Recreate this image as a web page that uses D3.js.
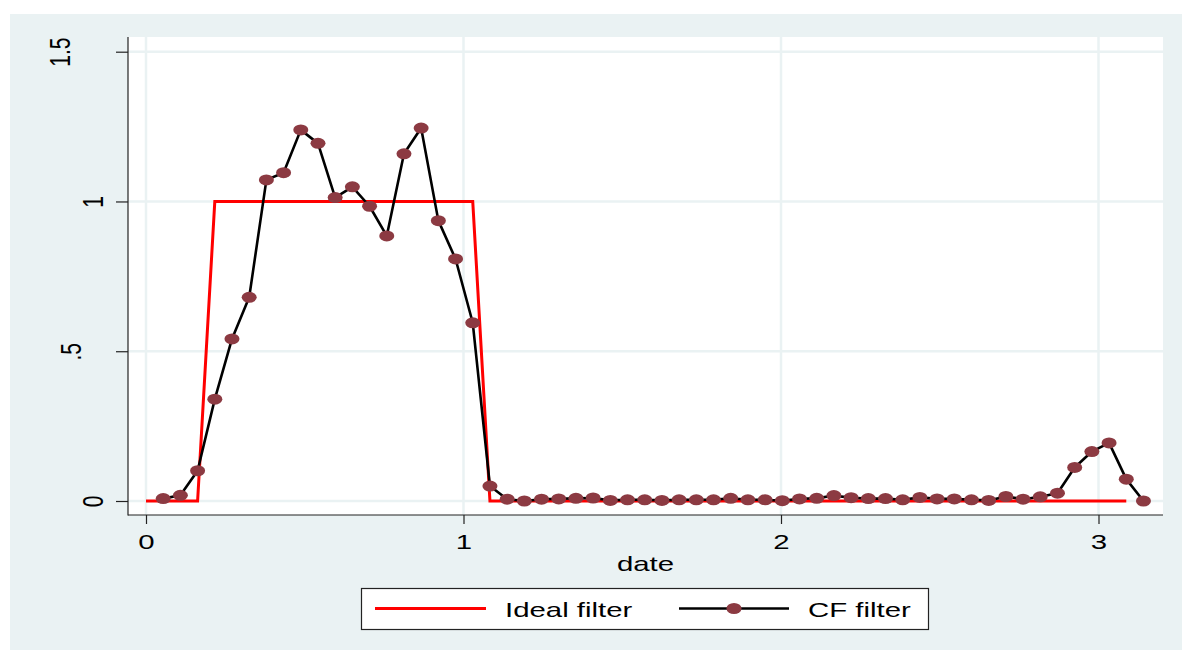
<!DOCTYPE html>
<html>
<head>
<meta charset="utf-8">
<script src="https://cdn.jsdelivr.net/npm/d3@7"></script>
<style>
  html, body { margin: 0; padding: 0; background: #ffffff; }
  svg { display: block; }
  text { font-family: "Liberation Sans", Arial, Helvetica, sans-serif; fill: #000; }
</style>
</head>
<body>
<svg id="chart" width="1182" height="650"></svg>
<script>
// Frequency grid (radians), 0 .. pi in steps of pi/58
const date = [
  0.0000, 0.0542, 0.1083, 0.1625, 0.2167, 0.2708, 0.3250, 0.3792, 0.4333, 0.4875,
  0.5417, 0.5958, 0.6500, 0.7042, 0.7583, 0.8125, 0.8666, 0.9208, 0.9750, 1.0291,
  1.0833, 1.1375, 1.1916, 1.2458, 1.3000, 1.3541, 1.4083, 1.4625, 1.5166, 1.5708,
  1.6250, 1.6791, 1.7333, 1.7875, 1.8416, 1.8958, 1.9500, 2.0041, 2.0583, 2.1125,
  2.1666, 2.2208, 2.2750, 2.3291, 2.3833, 2.4374, 2.4916, 2.5458, 2.6000, 2.6541,
  2.7083, 2.7625, 2.8166, 2.8708, 2.9250, 2.9791, 3.0333, 3.0875, 3.1416
];

// Ideal band-pass gain, on date[0] .. date[57]
const idealDate = date.slice(0, 58);
const idealGain = [
  0, 0, 0, 0,
  1, 1, 1, 1, 1, 1, 1, 1, 1, 1, 1, 1, 1, 1, 1, 1,
  0, 0, 0, 0, 0, 0, 0, 0, 0, 0, 0, 0, 0, 0, 0, 0, 0, 0, 0,
  0, 0, 0, 0, 0, 0, 0, 0, 0, 0, 0, 0, 0, 0, 0, 0, 0, 0, 0
];

// Christiano-Fitzgerald filter gain, on date[1] .. date[58]
const cfDate = date.slice(1);
const cfGain = [
  0.008, 0.019, 0.101, 0.340, 0.541, 0.680, 1.072, 1.096, 1.239, 1.194,
  1.013, 1.049, 0.984, 0.885, 1.159, 1.245, 0.936, 0.808, 0.595, 0.050,
  0.006, 0.000, 0.006, 0.007, 0.009, 0.010, 0.002, 0.004, 0.004, 0.002,
  0.004, 0.004, 0.004, 0.009, 0.004, 0.004, 0.001, 0.007, 0.009, 0.018,
  0.011, 0.008, 0.008, 0.004, 0.012, 0.007, 0.007, 0.004, 0.002, 0.015,
  0.006, 0.014, 0.026, 0.112, 0.165, 0.194, 0.073, 0.000
];

const xTicks = [0, 1, 2, 3];
const yTicks = [0, 0.5, 1, 1.5];
const yTickLabels = ["0", ".5", "1", "1.5"];
const xTitle = "date";
const legendLabels = ["Ideal filter", "CF filter"];

// ---- layout ----
const W = 1182, H = 650;
const plot = { left: 128, right: 1163, top: 37, bottom: 515 };
const SX = 1.4;               // horizontal glyph stretch used for all text
const FONT = 21;
const COLORS = {
  bg: "#eaf2f3", grid: "#eaf2f3", axis: "#222222",
  ideal: "#ff0000", cf: "#000000", marker: "#8c3a42"
};

const svg = d3.select("#chart");

const x = d3.scaleLinear().domain([0, 3]).range([146, 1098.5]);
const y = d3.scaleLinear().domain([0, 1.5]).range([501, 51.7]);

// outer graph region
svg.append("rect").attr("x", 10).attr("y", 14)
  .attr("width", W - 10).attr("height", H - 14).attr("fill", COLORS.bg);

// plot region
svg.append("rect").attr("x", plot.left).attr("y", plot.top)
  .attr("width", plot.right - plot.left).attr("height", plot.bottom - plot.top)
  .attr("fill", "#ffffff");

// grid
const grid = svg.append("g").attr("stroke", COLORS.grid).attr("stroke-width", 2.5);
grid.selectAll("line.h").data(yTicks).join("line").attr("class", "h")
  .attr("x1", plot.left).attr("x2", plot.right)
  .attr("y1", d => y(d)).attr("y2", d => y(d));
grid.selectAll("line.v").data(xTicks).join("line").attr("class", "v")
  .attr("y1", plot.top).attr("y2", plot.bottom)
  .attr("x1", d => x(d)).attr("x2", d => x(d));

// axes
const yAxis = svg.append("g").attr("transform", `translate(${plot.left},0)`)
  .call(d3.axisLeft(y).tickValues(yTicks).tickSize(12).tickSizeOuter(0)
    .tickFormat((d, i) => yTickLabels[i]));
const xAxis = svg.append("g").attr("transform", `translate(0,${plot.bottom})`)
  .call(d3.axisBottom(x).tickValues(xTicks).tickSize(9).tickSizeOuter(0)
    .tickFormat(d3.format("d")));

[yAxis, xAxis].forEach(a => {
  a.select(".domain").remove();
  a.selectAll(".tick line").attr("stroke", COLORS.axis).attr("stroke-width", 1.2);
  a.selectAll(".tick text").attr("font-size", FONT).attr("font-family", null).attr("fill", "#000");
});

// axis lines spanning the whole plot region
svg.append("line").attr("x1", plot.left).attr("x2", plot.left)
  .attr("y1", plot.top).attr("y2", plot.bottom + 0.5)
  .attr("stroke", COLORS.axis).attr("stroke-width", 1.2);
svg.append("line").attr("x1", plot.left).attr("x2", plot.right)
  .attr("y1", plot.bottom).attr("y2", plot.bottom)
  .attr("stroke", COLORS.axis).attr("stroke-width", 1.2);

// x tick labels
xAxis.selectAll(".tick text")
  .attr("y", null).attr("dy", null)
  .attr("text-anchor", "middle")
  .attr("transform", `translate(0,34) scale(${SX},1)`);

// y tick labels, rotated vertical; longer labels sit further from the axis
// (a decimal point counts as two character slots)
yAxis.selectAll(".tick text").each(function () {
  const t = d3.select(this);
  const s = t.text();
  const slots = s.length + (s.includes(".") ? 1 : 0);
  t.attr("x", null).attr("dy", "0.36em").attr("text-anchor", "middle");
  const cx = 92 - 11 * (slots - 1) - plot.left;
  t.attr("transform", `translate(${cx},0) scale(${SX},1) rotate(-90)`);
});

// x title
svg.append("text")
  .attr("transform", `translate(${(plot.left + plot.right) / 2},570.5) scale(${SX},1)`)
  .attr("text-anchor", "middle").attr("font-size", FONT).text(xTitle);

// series
const line = d3.line().x(d => x(d[0])).y(d => y(d[1]));
const idealPts = idealDate.map((d, i) => [d, idealGain[i]]);
const cfPts = cfDate.map((d, i) => [d, cfGain[i]]);

svg.append("path").datum(idealPts).attr("d", line)
  .attr("fill", "none").attr("stroke", COLORS.ideal).attr("stroke-width", 3)
  .attr("stroke-linejoin", "miter");

svg.append("path").datum(cfPts).attr("d", line)
  .attr("fill", "none").attr("stroke", COLORS.cf).attr("stroke-width", 2.6)
  .attr("stroke-linejoin", "round");

svg.append("g").selectAll("ellipse").data(cfPts).join("ellipse")
  .attr("cx", d => x(d[0])).attr("cy", d => y(d[1]))
  .attr("rx", 7.5).attr("ry", 5.5).attr("fill", COLORS.marker);

// legend
const leg = svg.append("g");
leg.append("rect").attr("x", 361.5).attr("y", 588.5).attr("width", 567).attr("height", 41)
  .attr("fill", "#ffffff").attr("stroke", COLORS.axis).attr("stroke-width", 1.2);
const legY = 608.5;
leg.append("line").attr("x1", 375).attr("x2", 486).attr("y1", legY).attr("y2", legY)
  .attr("stroke", COLORS.ideal).attr("stroke-width", 3);
leg.append("text").attr("transform", `translate(505,616.5) scale(${SX},1)`)
  .attr("font-size", FONT).text(legendLabels[0]);
leg.append("line").attr("x1", 679).attr("x2", 789).attr("y1", legY).attr("y2", legY)
  .attr("stroke", COLORS.cf).attr("stroke-width", 2.6);
leg.append("ellipse").attr("cx", 734).attr("cy", legY).attr("rx", 7.5).attr("ry", 5.5)
  .attr("fill", COLORS.marker);
leg.append("text").attr("transform", `translate(808,616.5) scale(${SX},1)`)
  .attr("font-size", FONT).text(legendLabels[1]);
</script>
</body>
</html>
